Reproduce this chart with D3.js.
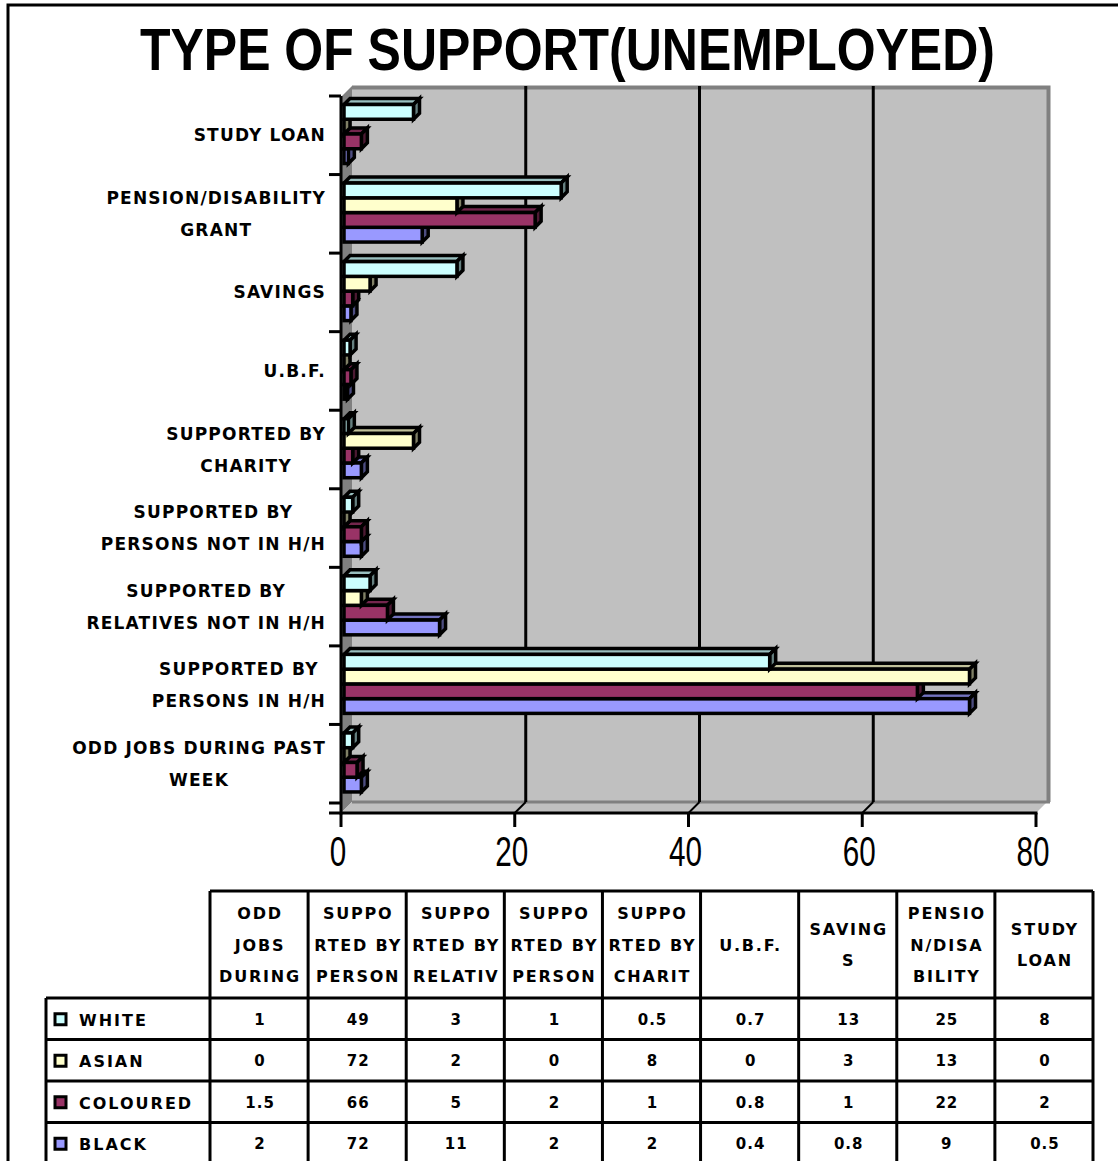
<!DOCTYPE html>
<html><head><meta charset="utf-8">
<script src="https://cdn.jsdelivr.net/npm/d3@7"></script>
<style>body{margin:0;background:#fff}svg{display:block}</style>
</head><body>
<svg id="c" width="1118" height="1161"></svg>
<script>
const title = "TYPE OF SUPPORT(UNEMPLOYED)";
const categories = ["ODD JOBS DURING PAST WEEK","SUPPORTED BY PERSONS IN H/H","SUPPORTED BY RELATIVES NOT IN H/H","SUPPORTED BY PERSONS NOT IN H/H","SUPPORTED BY CHARITY","U.B.F.","SAVINGS","PENSION/DISABILITY GRANT","STUDY LOAN"];
const axisLabelLines = [["ODD JOBS DURING PAST","WEEK"],["SUPPORTED BY","PERSONS IN H/H"],["SUPPORTED BY","RELATIVES NOT IN H/H"],["SUPPORTED BY","PERSONS NOT IN H/H"],["SUPPORTED BY","CHARITY"],["U.B.F."],["SAVINGS"],["PENSION/DISABILITY","GRANT"],["STUDY LOAN"]];
const tableHeaderLines = [["ODD","JOBS","DURING"],["SUPPO","RTED BY","PERSON"],["SUPPO","RTED BY","RELATIV"],["SUPPO","RTED BY","PERSON"],["SUPPO","RTED BY","CHARIT"],["U.B.F."],["SAVING","S"],["PENSIO","N/DISA","BILITY"],["STUDY","LOAN"]];
const seriesNames = ["WHITE","ASIAN","COLOURED","BLACK"];
const white    = [1, 49, 3, 1, 0.5, 0.7, 13, 25, 8];
const asian    = [0, 72, 2, 0, 8, 0, 3, 13, 0];
const coloured = [1.5, 66, 5, 2, 1, 0.8, 1, 22, 2];
const black    = [2, 72, 11, 2, 2, 0.4, 0.8, 9, 0.5];
const xTicks = [0, 20, 40, 60, 80];
const seriesColors = ["#CCFFFF", "#FFFFCC", "#993366", "#9999FF"];

const seriesValues = [white, asian, coloured, black];
const svg = d3.select("#c");
const FONT = "'DejaVu Sans', Verdana, sans-serif";

// outer frame
svg.append("path").attr("d", "M8,1161 V5 H1118").attr("fill", "none").attr("stroke", "#000").attr("stroke-width", 3);

// title (condensed via horizontal scale)
const tt = svg.append("text").attr("x", 0).attr("y", 0)
  .attr("font-family", "'Liberation Sans', Arial, sans-serif").attr("font-weight", "bold")
  .attr("font-size", 60).text(title);
const tw = tt.node().getComputedTextLength();
tt.attr("transform", `translate(140,70) scale(${855 / tw},1)`);

// scales
const x = d3.scaleLinear().domain([0, 80]).range([341, 1036]);
const y = d3.scaleBand().domain(categories.slice().reverse()).range([96, 803]);
const yIn = d3.scaleBand().domain(seriesNames).range([8.5, 67.5]);
const DX = 11, DY = 11, FY = 813, TY = 97;
const X0 = x(0), X1 = x(80);

// walls
svg.append("rect").attr("x", X0 + DX).attr("y", TY - DY).attr("width", X1 - X0).attr("height", FY - TY).attr("fill", "#C0C0C0");
svg.append("path").attr("d", `M${X0+DX},${TY-DY+1.5} H${X1+DX+1.5} V${FY-DY}`).attr("fill", "none").attr("stroke", "#808080").attr("stroke-width", 4);
svg.append("path").attr("d", `M${X0},${TY} L${X0+DX},${TY-DY} V${FY-DY} L${X0},${FY} Z`).attr("fill", "#808080");
svg.append("path").attr("d", `M${X0},${FY} L${X0+DX},${FY-DY} H${X1+DX} L${X1},${FY} Z`).attr("fill", "#C0C0C0");
svg.append("line").attr("x1", X0 + DX).attr("x2", X1 + DX + 3).attr("y1", FY - DY).attr("y2", FY - DY).attr("stroke", "#808080").attr("stroke-width", 3);

// gridlines
xTicks.filter(v => v > 0 && v < 80).forEach(v => {
  svg.append("line").attr("x1", x(v) + DX).attr("x2", x(v) + DX).attr("y1", TY - DY).attr("y2", FY - DY).attr("stroke", "#000").attr("stroke-width", 3);
  svg.append("line").attr("x1", x(v) + DX).attr("x2", x(v)).attr("y1", FY - DY).attr("y2", FY).attr("stroke", "#000").attr("stroke-width", 2);
});

// bars
function shade(c, k) { const r = d3.rgb(c); return d3.rgb(r.r * k, r.g * k, r.b * k).formatHex(); }
const D = 6, OFF = 3;
const gBars = svg.append("g");
categories.forEach((cat, ci) => {
  for (let si = seriesNames.length - 1; si >= 0; si--) {
    const v = seriesValues[si][ci];
    const x0 = x(0) + OFF, x1 = x(v) + OFF;
    const y0 = y(cat) + yIn(seriesNames[si]), h = yIn.bandwidth();
    const col = seriesColors[si];
    const g = gBars.append("g").attr("stroke", "#000").attr("stroke-width", 3.5).attr("stroke-linejoin", "miter");
    g.append("path").attr("d", `M${x0},${y0} L${x0+D},${y0-D} H${x1+D} L${x1},${y0} Z`).attr("fill", shade(col, 0.75));
    g.append("path").attr("d", `M${x1},${y0} L${x1+D},${y0-D} V${y0+h-D} L${x1},${y0+h} Z`).attr("fill", shade(col, 0.5));
    g.append("rect").attr("x", x0).attr("y", y0).attr("width", x1 - x0).attr("height", h).attr("fill", col);
  }
});

// axes
svg.append("line").attr("x1", X0).attr("x2", X0).attr("y1", 96).attr("y2", FY + 1.5).attr("stroke", "#000").attr("stroke-width", 3);
svg.append("line").attr("x1", 329).attr("x2", X1 + 1.5).attr("y1", FY).attr("y2", FY).attr("stroke", "#000").attr("stroke-width", 3);
const bounds = categories.map(c => y(c)).concat([y.range()[1]]);
bounds.forEach(b => svg.append("line").attr("x1", 329).attr("x2", X0).attr("y1", b).attr("y2", b).attr("stroke", "#000").attr("stroke-width", 3));
xTicks.forEach(v => {
  svg.append("line").attr("x1", x(v)).attr("x2", x(v)).attr("y1", FY).attr("y2", FY + 14).attr("stroke", "#000").attr("stroke-width", 3);
  const s = String(v);
  const w = 16.5 * s.length;
  svg.append("text").attr("x", x(v) - 3 - w / 2).attr("y", 866)
    .attr("textLength", w).attr("lengthAdjust", "spacingAndGlyphs")
    .attr("font-family", "'Liberation Sans', sans-serif").attr("font-size", 42).text(s);
});

// category labels
categories.forEach((cat, ci) => {
  const lines = axisLabelLines[ci];
  const cy = y(cat) + y.bandwidth() / 2;
  const t = svg.append("g").attr("font-family", FONT).attr("font-weight", "bold").attr("font-size", 17).attr("letter-spacing", 1.2);
  const texts = lines.map((ln, li) => t.append("text").attr("y", cy + (li - (lines.length - 1) / 2) * 32 + 6).text(ln));
  const maxW = d3.max(texts, tx => tx.node().getComputedTextLength());
  texts.forEach(tx => tx.attr("x", 326 - maxW / 2).attr("text-anchor", "middle"));
});

// data table
const colX = d3.scaleBand().domain(categories).range([210, 1093]);
const HT = 891, HB = 998, RH = 41.5, TL = 46;
const tg = svg.append("g").attr("font-family", FONT).attr("font-weight", "bold");
const rowsBottom = HB + RH * seriesNames.length;
tg.append("line").attr("x1", 210).attr("x2", 1093).attr("y1", HT).attr("y2", HT).attr("stroke", "#000").attr("stroke-width", 3);
categories.forEach(c => tg.append("line").attr("x1", colX(c)).attr("x2", colX(c)).attr("y1", HT).attr("y2", rowsBottom).attr("stroke", "#000").attr("stroke-width", 3));
tg.append("line").attr("x1", 1093).attr("x2", 1093).attr("y1", HT).attr("y2", rowsBottom).attr("stroke", "#000").attr("stroke-width", 3);
tg.append("line").attr("x1", TL).attr("x2", TL).attr("y1", HB).attr("y2", rowsBottom).attr("stroke", "#000").attr("stroke-width", 3);
for (let r = 0; r <= seriesNames.length; r++) {
  tg.append("line").attr("x1", TL).attr("x2", 1093).attr("y1", HB + r * RH).attr("y2", HB + r * RH).attr("stroke", "#000").attr("stroke-width", 3);
}
categories.forEach((c, ci) => {
  const lines = tableHeaderLines[ci];
  const cx = colX(c) + colX.bandwidth() / 2 + 1;
  lines.forEach((ln, li) => {
    tg.append("text").attr("x", cx).attr("y", (HT + HB) / 2 + (li - (lines.length - 1) / 2) * 31.5 + 6)
      .attr("text-anchor", "middle").attr("font-size", 16).attr("letter-spacing", 1.8).text(ln);
  });
});
seriesNames.forEach((s, si) => {
  const cy = HB + si * RH + RH / 2;
  tg.append("rect").attr("x", 55).attr("y", cy - 5).attr("width", 11).attr("height", 11)
    .attr("fill", seriesColors[si]).attr("stroke", "#000").attr("stroke-width", 3);
  tg.append("text").attr("x", 79).attr("y", cy + 7).attr("font-size", 16).attr("letter-spacing", 2).text(s);
  seriesValues[si].forEach((v, ci) => {
    tg.append("text").attr("x", colX(categories[ci]) + colX.bandwidth() / 2 + 1).attr("y", cy + 6)
      .attr("text-anchor", "middle").attr("font-size", 15).attr("letter-spacing", 1).text(String(v));
  });
});
</script>
</body></html>
